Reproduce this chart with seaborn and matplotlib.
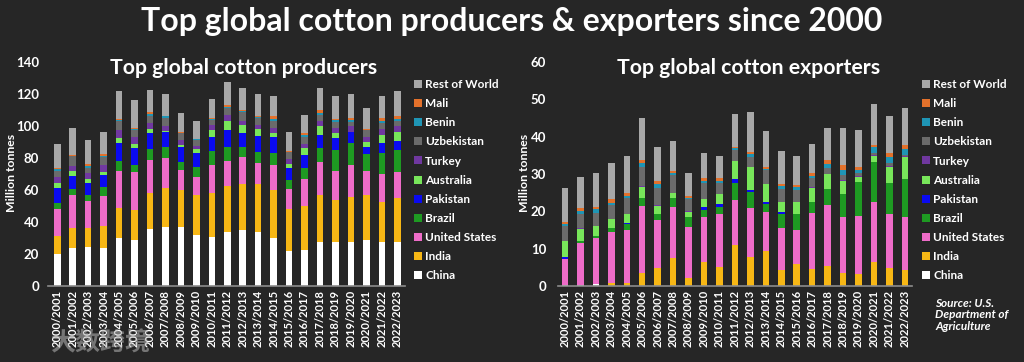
import matplotlib
matplotlib.use("Agg")
from matplotlib import pyplot as plt
from matplotlib.lines import Line2D
import seaborn as sns
import numpy as np

years = ["2000/2001", "2001/2002", "2002/2003", "2003/2004", "2004/2005", "2005/2006",
         "2006/2007", "2007/2008", "2008/2009", "2009/2010", "2010/2011", "2011/2012",
         "2012/2013", "2013/2014", "2014/2015", "2015/2016", "2016/2017", "2017/2018",
         "2018/2019", "2019/2020", "2020/2021", "2021/2022", "2022/2023"]

countries = ["China", "India", "United States", "Brazil", "Pakistan", "Australia",
             "Turkey", "Uzbekistan", "Benin", "Mali", "Rest of World"]

colors = {
    "China": "#ffffff",
    "India": "#f7b715",
    "United States": "#ee6cc8",
    "Brazil": "#1e9a22",
    "Pakistan": "#0a0af0",
    "Australia": "#78e65a",
    "Turkey": "#7038a0",
    "Uzbekistan": "#6b6b6b",
    "Benin": "#1f95b5",
    "Mali": "#e3712b",
    "Rest of World": "#a8a8a8",
}

# producers (million tonnes as labelled)
prod_china = [20.3, 24.0, 24.5, 23.8, 30.0, 28.6, 35.5, 37.0, 36.6, 32.0, 30.7, 33.8,
              34.9, 33.8, 30.0, 21.9, 22.8, 27.6, 27.6, 27.6, 29.0, 27.2, 27.6]
prod_india = [11.0, 12.5, 11.5, 13.8, 19.0, 18.8, 22.4, 24.4, 23.4, 24.8, 27.2, 28.7,
              28.8, 29.9, 30.0, 26.1, 27.3, 29.2, 26.1, 28.2, 27.8, 25.5, 27.6]
prod_us = [17.0, 20.5, 17.0, 18.6, 23.0, 23.8, 20.9, 18.8, 12.5, 11.5, 17.7, 15.5,
           16.7, 13.0, 15.6, 12.4, 16.8, 20.9, 18.3, 19.6, 15.1, 17.3, 16.3]
prod_brazil = [3.7, 3.4, 3.6, 5.8, 6.0, 4.4, 7.1, 6.8, 5.2, 5.9, 8.8, 8.7,
               6.3, 7.3, 7.4, 5.8, 7.1, 8.6, 13.0, 14.2, 10.6, 13.4, 13.5]
prod_pakistan = [9.0, 8.6, 8.0, 7.6, 11.6, 10.4, 10.0, 9.5, 9.0, 8.8, 8.6, 10.5,
                 9.2, 9.8, 10.0, 7.3, 7.9, 8.1, 7.4, 6.5, 4.2, 5.8, 5.9]
prod_australia = [3.6, 3.0, 2.1, 1.4, 3.2, 2.8, 2.1, 0.5, 1.5, 2.5, 4.6, 6.2,
                  4.8, 4.2, 2.9, 2.8, 4.1, 5.3, 3.1, 0.4, 3.6, 5.2, 5.6]
prod_turkey = [3.4, 3.0, 3.7, 4.6, 4.8, 4.2, 3.8, 3.0, 2.8, 2.1, 3.1, 3.4,
               2.5, 2.7, 2.7, 2.9, 2.6, 3.5, 3.1, 3.2, 3.1, 3.8, 3.8]
prod_uzbekistan = [4.0, 6.0, 3.6, 5.3, 5.4, 4.6, 4.6, 5.3, 4.5, 3.7, 3.1, 4.2,
                   5.7, 4.2, 4.8, 4.4, 4.8, 3.8, 4.2, 3.1, 3.8, 3.6, 2.9]
prod_benin = [1.0, 0.5, 1.0, 0.6, 0.6, 0.7, 1.0, 0.7, 0.3, 0.3, 0.6, 0.8,
              0.6, 0.6, 1.2, 0.4, 1.0, 1.3, 0.8, 1.0, 0.6, 1.5, 1.4]
prod_mali = [0.8, 0.5, 1.0, 1.0, 0.6, 0.7, 1.1, 0.5, 0.4, 0.4, 0.6, 1.2,
             0.7, 0.7, 1.4, 0.5, 1.1, 1.7, 0.8, 1.2, 0.5, 1.6, 1.4]
prod_rest = [15.2, 16.6, 15.0, 14.0, 17.4, 17.4, 14.1, 13.5, 12.2, 11.4, 12.0, 14.5,
             13.5, 13.8, 13.0, 11.6, 11.5, 14.0, 14.1, 15.0, 12.9, 13.6, 15.6]

# exporters
exp_china = [0.3, 0.3, 0.6, 0.1, 0.1, 0.0, 0.0, 0.0, 0.0, 0.0, 0.0, 0.0,
             0.0, 0.0, 0.0, 0.0, 0.0, 0.0, 0.0, 0.0, 0.0, 0.0, 0.0]
exp_india = [0.0, 0.0, 0.0, 0.8, 0.7, 3.6, 4.8, 7.6, 2.1, 6.4, 5.1, 11.1,
             7.8, 9.3, 4.4, 6.0, 4.5, 5.4, 3.6, 3.3, 6.3, 4.8, 4.2]
exp_us = [7.0, 11.1, 12.3, 13.6, 14.3, 17.8, 13.0, 13.6, 13.7, 12.0, 14.3, 11.9,
          13.1, 10.4, 11.2, 9.0, 15.1, 16.3, 14.9, 15.5, 16.3, 14.6, 14.3]
exp_brazil = [0.0, 0.7, 0.4, 1.1, 1.5, 2.1, 1.4, 2.3, 2.6, 1.9, 1.8, 4.5,
              4.3, 2.2, 3.6, 4.4, 2.8, 4.3, 6.1, 9.0, 10.7, 8.1, 10.1]
exp_pakistan = [0.6, 0.0, 0.0, 0.0, 0.4, 0.0, 0.0, 0.2, 0.2, 0.8, 0.7, 1.1,
                0.5, 0.5, 0.5, 0.0, 0.0, 0.0, 0.0, 0.0, 0.0, 0.0, 0.0]
exp_australia = [4.1, 3.3, 2.7, 2.3, 2.2, 3.1, 2.3, 1.1, 1.3, 2.2, 2.7, 4.9,
                 6.1, 4.9, 2.7, 3.0, 3.9, 3.9, 3.6, 1.5, 1.6, 4.5, 6.0]
exp_turkey = [0.0, 0.1, 0.1, 0.1, 0.1, 0.1, 0.1, 0.1, 0.1, 0.1, 0.1, 0.1,
              0.1, 0.1, 0.1, 0.1, 0.1, 0.1, 0.1, 0.2, 0.2, 0.2, 0.2]
exp_uzbekistan = [4.1, 3.9, 3.5, 3.7, 4.2, 5.3, 4.7, 4.8, 3.2, 4.1, 2.8, 2.8,
                  2.7, 3.7, 3.6, 3.2, 2.6, 1.5, 1.4, 0.8, 0.4, 0.7, 0.3]
exp_benin = [0.6, 0.6, 0.9, 0.6, 0.5, 0.9, 0.9, 0.5, 0.4, 0.6, 0.6, 0.5,
             0.8, 0.2, 0.7, 0.7, 0.5, 1.1, 1.4, 0.9, 1.7, 1.7, 1.5]
exp_mali = [0.5, 0.8, 0.7, 1.0, 0.8, 0.9, 0.9, 0.6, 0.5, 0.7, 0.7, 0.4,
            0.6, 0.7, 0.5, 0.6, 0.7, 1.2, 1.3, 0.8, 0.6, 1.1, 1.2]
exp_rest = [9.1, 8.3, 9.2, 9.7, 10.0, 11.2, 9.2, 8.1, 6.1, 6.9, 6.0, 8.7,
            10.5, 9.4, 8.9, 7.8, 7.8, 8.5, 9.9, 9.8, 10.9, 9.9, 9.8]

producers = [prod_china, prod_india, prod_us, prod_brazil, prod_pakistan, prod_australia,
             prod_turkey, prod_uzbekistan, prod_benin, prod_mali, prod_rest]
exporters = [exp_china, exp_india, exp_us, exp_brazil, exp_pakistan, exp_australia,
             exp_turkey, exp_uzbekistan, exp_benin, exp_mali, exp_rest]

BG = "#262626"
sns.set_theme(style="dark")
plt.rcParams["font.family"] = ["Lato", "DejaVu Sans"]
plt.rcParams["font.weight"] = "bold"

fig = plt.figure(figsize=(10.24, 3.62), dpi=100, facecolor=BG)


def stacked(ax, series, ymax, step, ypad):
    ax.set_facecolor(BG)
    bottom = np.zeros(len(years))
    for name, vals in zip(countries, series):
        sns.barplot(x=years, y=vals, bottom=bottom, color=colors[name], width=0.42,
                    saturation=1, errorbar=None, linewidth=0, ax=ax)
        bottom = bottom + np.array(vals)
    ax.set_ylim(0, ymax)
    ax.set_yticks(np.arange(0, ymax + 1, step))
    ax.grid(False)
    for s in ["left", "right", "top"]:
        ax.spines[s].set_visible(False)
    ax.spines["bottom"].set_color("#8c8c8c")
    ax.spines["bottom"].set_linewidth(1.2)
    ax.tick_params(axis="x", colors="white", labelsize=8, rotation=90, length=0, pad=3)
    ax.tick_params(axis="y", colors="white", labelsize=9.5, length=0, pad=ypad)
    for lab in ax.get_xticklabels() + ax.get_yticklabels():
        lab.set_fontweight("bold")
    ax.set_xlabel("")
    ax.set_ylabel("")


ax1 = fig.add_axes([48 / 1024, 1 - 286 / 362, 357 / 1024, 224 / 362])
stacked(ax1, producers, 140, 20, 6.5)
ax1.set_xlim(-0.6, 22.5)

ax2 = fig.add_axes([558 / 1024, 1 - 286 / 362, 354 / 1024, 224 / 362])
stacked(ax2, exporters, 60, 10, 8.5)
ax2.set_xlim(-0.45, 22.46)

fig.text(0.5, 1 - 22 / 362, "Top global cotton producers & exporters since 2000",
         color="white", fontsize=23, fontweight="bold", ha="center", va="center")
fig.text(244 / 1024, 1 - 68 / 362, "Top global cotton producers", color="white",
         fontsize=15.3, fontweight="bold", ha="center", va="center")
fig.text(749 / 1024, 1 - 68 / 362, "Top global cotton exporters", color="white",
         fontsize=15.3, fontweight="bold", ha="center", va="center")

for x in [12, 525]:
    fig.text(x / 1024, 1 - 173 / 362, "Million tonnes", color="white", fontsize=8.8,
             fontweight="bold", rotation=90, ha="center", va="center")

handles = [Line2D([0], [0], marker="s", linestyle="", markersize=5.5,
                  markerfacecolor=colors[c], markeredgewidth=0) for c in countries[::-1]]
for x in [414, 922]:
    fig.legend(handles, countries[::-1], loc="upper left",
               bbox_to_anchor=(x / 1024, 1 - 79 / 362), frameon=False,
               labelcolor="white", prop={"size": 8.5, "weight": "bold"},
               handlelength=0.6, handletextpad=0.35, labelspacing=0.69,
               borderaxespad=0, borderpad=0)

fig.text(935 / 1024, 1 - 315 / 362, "Source: U.S.\nDepartment of\nAgriculture",
         color="white", fontsize=8.5, fontweight="bold", style="italic",
         ha="left", va="center", linespacing=1.1)

fig.text(50 / 1024, 1 - 343 / 362, "大数跨境", color="#b8b8b8", alpha=0.55,
         fontsize=18, family=["Noto Sans CJK SC", "DejaVu Sans"], ha="left", va="center")

fig.savefig("out.png", dpi=100, facecolor=BG)
